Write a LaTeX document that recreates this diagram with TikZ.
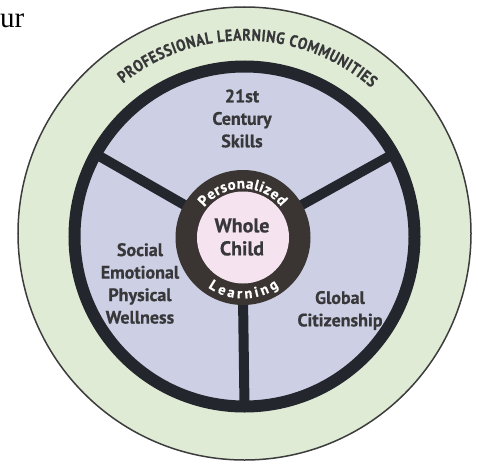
\documentclass[tikz,border=0pt]{standalone}
\usepackage{fontspec}
\setmainfont{PT Sans}[BoldFeatures={FakeBold=0.6}]
\newfontfamily\serifur{Liberation Serif}
\newfontfamily\plcfont{PT Sans}[FakeStretch=0.85, BoldFeatures={FakeBold=0.6}]
\usetikzlibrary{decorations.text}
\definecolor{band}{HTML}{DFEBD5}
\definecolor{lav}{HTML}{CDD0E4}
\definecolor{ringc}{HTML}{23262C}
\definecolor{hubc}{HTML}{3A3432}
\definecolor{pinkc}{HTML}{F5E4EF}
\definecolor{txt}{HTML}{38383A}
\definecolor{outline}{HTML}{3C3C3C}
\tikzset{
  spoke/.style={draw=ringc, line width=10pt},
  label/.style={text=txt, font=\bfseries\fontsize{18}{22.5}\selectfont, align=center, inner sep=0pt},
  hublabel/.style={text=txt, font=\bfseries\fontsize{20}{23}\selectfont, align=center, inner sep=0pt}
}
\begin{document}
\begin{tikzpicture}[x=1pt,y=1pt]
\useasboundingbox (-244.5,-232.5) rectangle (233.5,233.5);
\coordinate (O) at (0,0);
\coordinate (R) at (0,-3);
\coordinate (D) at (-1.5,-4);
% outer band
\fill[band, draw=outline, line width=1.5pt] (O) circle[radius=226.5];
% main disc with ring
\draw[fill=lav, draw=ringc, line width=12pt] (R) circle[radius=170];
% spokes
\path (R) ++(151:170) coordinate (s1a);
\path (D) ++(151:60) coordinate (s1b);
\path (R) ++(29:170) coordinate (s2a);
\path (D) ++(29:60) coordinate (s2b);
\path (R) ++(270:170) coordinate (s3a);
\path (D) ++(270:60) coordinate (s3b);
\draw[spoke] (s1a) -- (s1b);
\draw[spoke] (s2a) -- (s2b);
\draw[spoke] (s3a) -- (s3b);
% hub
\fill[hubc] (D) circle[radius=67.5];
\fill[pinkc] (D) circle[radius=46];
% curved texts
\path[decorate, decoration={text along path, text align={fit to path},
  text={|\color{txt}\plcfont\bfseries\fontsize{16.5}{16.5}\selectfont|PROFESSIONAL LEARNING COMMUNITIES}}]
  (O) ++(129:193) arc[start angle=129, end angle=49, radius=193];
\path[decorate, decoration={text along path, text align={fit to path},
  text={|\color{white}\bfseries\fontsize{15}{15}\selectfont|Personalized}}]
  (D) ++(142:49) arc[start angle=142, end angle=39, radius=49];
\path[decorate, decoration={text along path, text align={fit to path},
  text={|\color{white}\bfseries\fontsize{14.5}{14.5}\selectfont|Learning}}]
  (D) ++(235:61) arc[start angle=235, end angle=306, radius=61];
% labels
\node[label] (skills) at (-2.5,115) {21st\\Century\\Skills};
\node[label] (wellness) at (-104.5,-50) {Social\\Emotional\\Physical\\Wellness};
\node[label] (global) at (95.5,-77) {Global\\Citizenship};
\node[hublabel] (child) at (-2.5,-3.5) {Whole\\Child};
\node[anchor=base west, inner sep=0pt, font=\serifur\fontsize{29}{29}\selectfont] (ur) at (-244.5,205.5) {ur};
\end{tikzpicture}
\end{document}
